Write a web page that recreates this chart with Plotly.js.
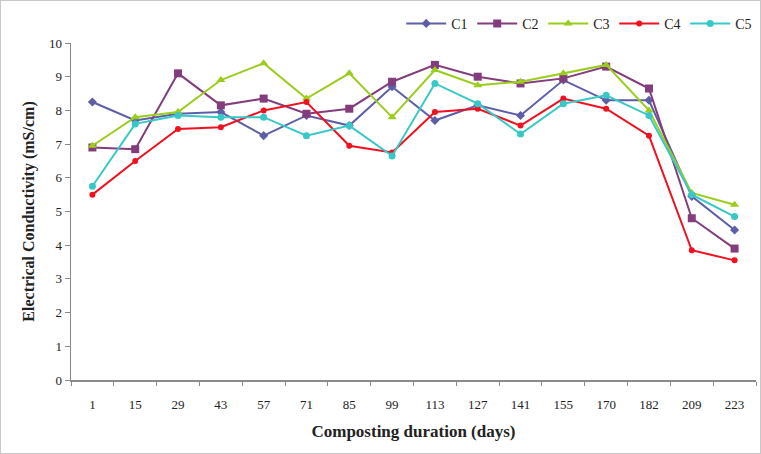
<!DOCTYPE html>
<html>
<head>
<meta charset="utf-8">
<script src="https://cdn.plot.ly/plotly-3.0.1.min.js"></script>
<style>
html,body{margin:0;padding:0;background:#fff;}
#chart{width:761px;height:454px;box-sizing:border-box;border:1px solid #c8c8c8;}
</style>
</head>
<body>
<div id="chart"></div>
<script>
const days = ["1","15","29","43","57","71","85","99","113","127","141","155","170","182","209","223"];
const C1 = [8.25,7.7,7.9,7.95,7.25,7.85,7.55,8.7,7.7,8.15,7.85,8.9,8.3,8.3,5.45,4.45];
const C2 = [6.9,6.85,9.1,8.15,8.35,7.9,8.05,8.85,9.35,9.0,8.8,8.95,9.3,8.65,4.8,3.9];
const C3 = [6.95,7.8,7.95,8.9,9.4,8.35,9.1,7.8,9.2,8.75,8.85,9.1,9.35,8.0,5.55,5.2];
const C4 = [5.5,6.5,7.45,7.5,8.0,8.25,6.95,6.75,7.95,8.05,7.55,8.35,8.05,7.25,3.85,3.55];
const C5 = [5.75,7.6,7.85,7.8,7.8,7.25,7.55,6.65,8.8,8.2,7.3,8.2,8.45,7.85,5.5,4.85];

function tr(name, y, color, symbol, size){
  return {x: days, y: y, name: name, type: 'scatter', mode: 'lines+markers',
    line: {color: color, width: 2},
    marker: {color: color, symbol: symbol, size: size}};
}
const data = [
  tr('C1', C1, '#5E5EA8', 'diamond', 7),
  tr('C2', C2, '#833C7C', 'square', 8),
  tr('C3', C3, '#9ACD1C', 'triangle-up', 8),
  tr('C4', C4, '#F01020', 'circle', 6),
  tr('C5', C5, '#38C8C8', 'circle', 7)
];
const font = {family: '"Liberation Serif", "Times New Roman", serif', color: '#222'};
const layout = {
  width: 759, height: 452,
  margin: {l: 70, r: 4, t: 42, b: 73},
  paper_bgcolor: '#fff', plot_bgcolor: '#fff',
  font: Object.assign({size: 13}, font),
  showlegend: true,
  legend: {orientation: 'h', xref: 'container', yref: 'container', x: 0.995, xanchor: 'right',
    y: 0.985, yanchor: 'top', entrywidth: 16,
    font: Object.assign({size: 14}, font), itemwidth: 40, bgcolor: 'rgba(0,0,0,0)'},
  xaxis: {type: 'category', range: [-0.5, 15.5], autorange: false, showline: true, linecolor: '#8a8a8a', linewidth: 1.5,
    ticks: 'outside', ticklen: 4, tickcolor: '#8a8a8a', tickson: 'boundaries', ticklabelstandoff: 12,
    showgrid: false, zeroline: false, tickfont: Object.assign({size: 13}, font), automargin: false,
    title: {text: '<b>Composting duration (days)</b>', font: Object.assign({size: 17}, font), standoff: 14}},
  yaxis: {range: [0, 10], autorange: false, dtick: 1, showline: true, linecolor: '#8a8a8a', linewidth: 1.5,
    ticks: 'outside', ticklen: 5, tickcolor: '#8a8a8a', showgrid: false, zeroline: false, automargin: false,
    tickfont: Object.assign({size: 13}, font),
    title: {text: '<b>Electrical Conductivity (mS/cm)</b>', font: Object.assign({size: 16}, font), standoff: 10}}
};
Plotly.newPlot('chart', data, layout, {displayModeBar: false, staticPlot: true});
</script>
</body>
</html>
